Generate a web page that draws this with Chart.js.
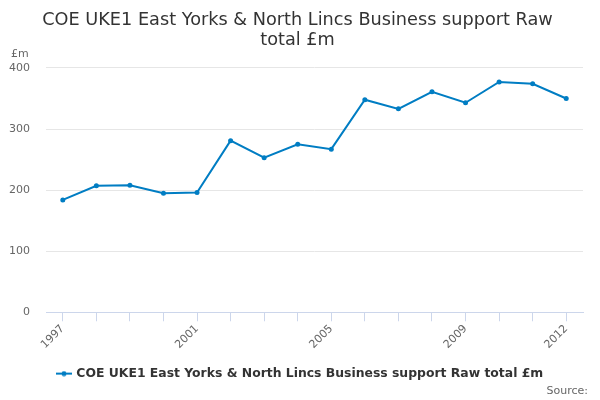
<!DOCTYPE html>
<html>
<head>
<meta charset="utf-8">
<script src="https://cdn.jsdelivr.net/npm/chart.js@4/dist/chart.umd.min.js"></script>
<style>
  body { margin: 0; background: #fff; }
  #chart { display: block; }
</style>
</head>
<body>
<canvas id="chart" width="600" height="400"></canvas>
<script>
// Données
const years = ['1997', '1998', '1999', '2000', '2001', '2002', '2003', '2004',
  '2005', '2006', '2007', '2008', '2009', '2010', '2011', '2012'];
const businessSupport = [184, 207, 208, 195, 196, 281, 253, 275,
  267, 348, 333, 361, 343, 377, 374, 350];
const shownYears = ['1997', '2001', '2005', '2009', '2012'];
const yTicks = [0, 100, 200, 300, 400];

const seriesName = 'COE UKE1 East Yorks & North Lincs Business support Raw total £m';
const blue = '#007dc3';
const font = 'DejaVu Sans';

// Symbole de légende : trait + point
function legendSymbol() {
  const c = document.createElement('canvas');
  c.width = 16; c.height = 6;
  const g = c.getContext('2d');
  g.strokeStyle = blue;
  g.lineWidth = 2;
  g.beginPath(); g.moveTo(0, 3); g.lineTo(16, 3); g.stroke();
  g.fillStyle = blue;
  g.beginPath(); g.arc(8, 3, 2.5, 0, Math.PI * 2); g.fill();
  return c;
}

// Affiche l'unité "£m" au-dessus de l'axe Y
const unitLabel = {
  id: 'unitLabel',
  afterDraw(chart) {
    const ctx = chart.ctx;
    ctx.save();
    ctx.font = '11px "' + font + '"';
    ctx.fillStyle = '#666666';
    ctx.textAlign = 'left';
    ctx.textBaseline = 'middle';
    ctx.fillText('£m', 11, chart.chartArea.top - 14);
    ctx.restore();
  }
};

// Recentre titre et légende sur toute la largeur, "Source:" à droite
const recentre = {
  id: 'recentre',
  afterLayout(chart) {
    if (chart.titleBlock) chart.titleBlock.left = 12;
    if (chart.legend) chart.legend.left = 18;
    chart.boxes.forEach(b => {
      if (b.options && b.options.text === 'Source:') b.right = 588;
    });
  }
};

const config = {
  type: 'line',
  data: {
    labels: years,
    datasets: [{
      label: seriesName,
      data: businessSupport,
      borderColor: blue,
      backgroundColor: blue,
      borderWidth: 2,
      pointRadius: 2.5,
      pointStyle: 'circle',
      pointBackgroundColor: blue,
      pointBorderWidth: 0,
      tension: 0
    }]
  },
  options: {
    responsive: false,
    animation: false,
    layout: { padding: { left: 0, right: 17, top: 7, bottom: 2 } },
    scales: {
      x: {
        offset: true,
        border: { color: '#ccd6eb' },
        grid: {
          display: true,
          drawOnChartArea: false,
          drawTicks: true,
          tickLength: 9,
          color: '#ccd6eb',
          offset: false
        },
        afterFit: (axis) => { axis.height += 14; },
        ticks: {
          autoSkip: false,
          maxRotation: 45,
          minRotation: 45,
          padding: 1,
          color: '#666666',
          font: { family: font, size: 11 },
          callback: function (value) {
            const y = this.getLabelForValue(value);
            return shownYears.includes(y) ? y : '';
          }
        }
      },
      y: {
        min: 0,
        max: 400,
        border: { display: false },
        grid: { color: '#e6e6e6', drawTicks: false },
        afterBuildTicks: (axis) => { axis.ticks = yTicks.map(v => ({ value: v })); },
        afterFit: (axis) => { axis.width = 46; },
        ticks: {
          padding: 16,
          color: '#666666',
          font: { family: font, size: 11 }
        }
      }
    },
    plugins: {
      title: {
        display: true,
        text: ['COE UKE1 East Yorks & North Lincs Business support Raw', 'total £m'],
        color: '#333333',
        font: { family: font, size: 17.7, weight: 'normal', lineHeight: 1.1 },
        padding: { top: 4, bottom: 18 }
      },
      subtitle: {
        display: true,
        position: 'bottom',
        align: 'end',
        text: 'Source:',
        color: '#666666',
        font: { family: font, size: 11, weight: 'normal' },
        padding: { top: -5, bottom: 0 }
      },
      legend: {
        position: 'bottom',
        labels: {
          usePointStyle: true,
          pointStyle: legendSymbol(),
          color: '#333333',
          font: { family: font, size: 12.4, weight: 'bold' },
          padding: 1
        }
      },
      tooltip: { enabled: false }
    }
  },
  plugins: [unitLabel, recentre]
};

new Chart(document.getElementById('chart').getContext('2d'), config);
</script>
</body>
</html>
